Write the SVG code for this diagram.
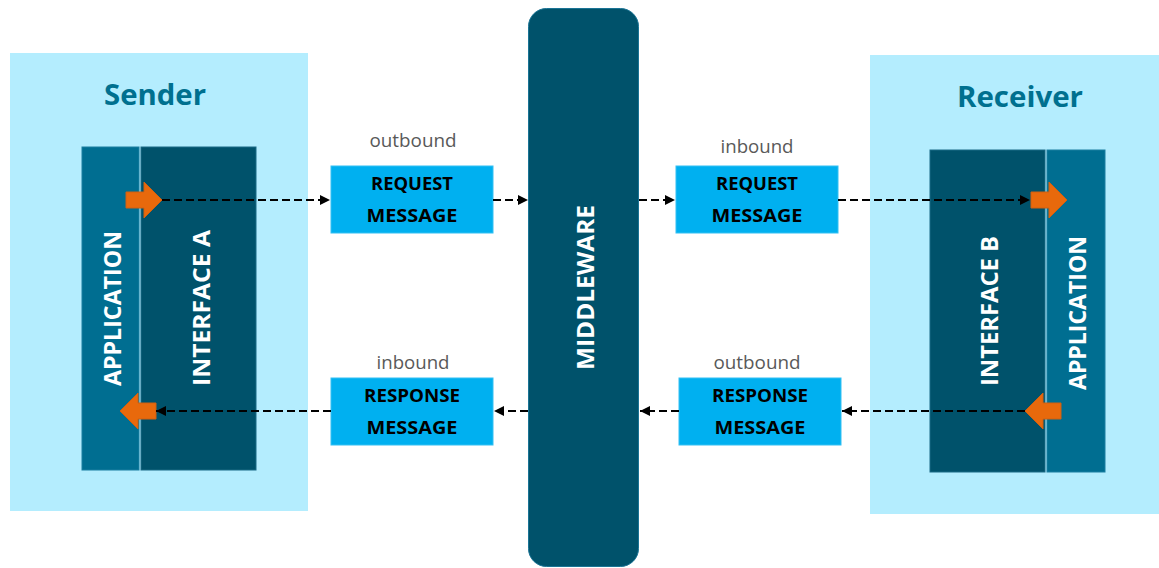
<svg xmlns="http://www.w3.org/2000/svg" width="1159" height="568" viewBox="0 0 1159 568">
<defs>
<style>
.bg{fill:#b4edfe;}
.app{fill:#006e91;stroke:#1a7ea0;stroke-width:1;}
.itf{fill:#00526b;stroke:#1a6a85;stroke-width:1;}
.title{font-family:"Open Sans","Noto Sans",sans-serif;font-weight:bold;font-size:29px;fill:#00708f;text-anchor:middle;}
.vt{font-family:"Open Sans","Noto Sans",sans-serif;font-weight:bold;font-size:24px;fill:#ffffff;text-anchor:middle;dominant-baseline:central;}
.msg{fill:#00b0f0;stroke:#33c0f3;stroke-width:1;}
.mt{font-family:"Open Sans","Noto Sans",sans-serif;font-weight:bold;font-size:18px;fill:#000000;text-anchor:middle;}
.lbl{font-family:"Open Sans","Noto Sans",sans-serif;font-size:18.5px;fill:#595959;text-anchor:middle;}
.conn{fill:none;stroke:#000000;stroke-width:2;stroke-dasharray:8 4;}
.orange{fill:#e8690c;stroke:#d06010;stroke-width:1;}
</style>
<marker id="ah" viewBox="0 0 10 10" refX="10" refY="5" markerWidth="5" markerHeight="5" orient="auto" markerUnits="strokeWidth">
<path d="M0,0 L10,5 L0,10 z" fill="#000000"/>
</marker>
</defs>

<g id="sender">
<rect class="bg" x="10" y="53" width="298" height="458"/>
<text class="title" x="155" y="105" textLength="102" lengthAdjust="spacingAndGlyphs">Sender</text>
<rect class="app" x="82" y="147" width="57" height="323"/>
<rect class="itf" x="141" y="147" width="115" height="323"/>
<text class="vt" transform="translate(111,308.5) rotate(-90)" textLength="155" lengthAdjust="spacingAndGlyphs">APPLICATION</text>
<text class="vt" transform="translate(200,308) rotate(-90)" textLength="156" lengthAdjust="spacingAndGlyphs">INTERFACE A</text>
<path class="orange" d="M126,192 L144,192 L144,182 L162,200 L144,218 L144,208 L126,208 z"/>
<path class="orange" d="M156,403 L138,403 L138,393 L120,411 L138,429 L138,419 L156,419 z"/>
</g>

<g id="receiver">
<rect class="bg" x="870" y="55" width="289" height="459"/>
<text class="title" x="1020" y="107" textLength="126" lengthAdjust="spacingAndGlyphs">Receiver</text>
<rect class="itf" x="930" y="150" width="115" height="322"/>
<rect class="app" x="1047" y="150" width="58" height="322"/>
<text class="vt" transform="translate(988,311) rotate(-90)" textLength="150" lengthAdjust="spacingAndGlyphs">INTERFACE B</text>
<text class="vt" transform="translate(1076,313) rotate(-90)" textLength="154" lengthAdjust="spacingAndGlyphs">APPLICATION</text>
<path class="orange" d="M1031,192 L1049,192 L1049,182 L1067,200 L1049,218 L1049,208 L1031,208 z"/>
<path class="orange" d="M1061,403 L1043,403 L1043,393 L1025,411 L1043,429 L1043,419 L1061,419 z"/>
</g>

<g id="middleware">
<rect x="528.5" y="8.5" width="110" height="558" rx="18" ry="18" fill="#00526b" stroke="#1a7495" stroke-width="1"/>
<text class="vt" transform="translate(584,287.5) rotate(-90)" textLength="165" lengthAdjust="spacingAndGlyphs">MIDDLEWARE</text>
</g>

<g id="req-out">
<text class="lbl" x="413" y="147" textLength="87" lengthAdjust="spacingAndGlyphs">outbound</text>
<rect class="msg" x="331" y="166" width="162" height="67"/>
<text class="mt" x="412" y="190" textLength="82" lengthAdjust="spacingAndGlyphs">REQUEST</text>
<text class="mt" x="412" y="222" textLength="91" lengthAdjust="spacingAndGlyphs">MESSAGE</text>
</g>

<g id="req-in">
<text class="lbl" x="757" y="153" textLength="73" lengthAdjust="spacingAndGlyphs">inbound</text>
<rect class="msg" x="676" y="166" width="162" height="67"/>
<text class="mt" x="757" y="190" textLength="82" lengthAdjust="spacingAndGlyphs">REQUEST</text>
<text class="mt" x="757" y="222" textLength="91" lengthAdjust="spacingAndGlyphs">MESSAGE</text>
</g>

<g id="resp-in">
<text class="lbl" x="413" y="369" textLength="73" lengthAdjust="spacingAndGlyphs">inbound</text>
<rect class="msg" x="331" y="378" width="162" height="67"/>
<text class="mt" x="412" y="402" textLength="96" lengthAdjust="spacingAndGlyphs">RESPONSE</text>
<text class="mt" x="412" y="434" textLength="91" lengthAdjust="spacingAndGlyphs">MESSAGE</text>
</g>

<g id="resp-out">
<text class="lbl" x="757" y="369" textLength="87" lengthAdjust="spacingAndGlyphs">outbound</text>
<rect class="msg" x="679" y="378" width="162" height="67"/>
<text class="mt" x="760" y="402" textLength="96" lengthAdjust="spacingAndGlyphs">RESPONSE</text>
<text class="mt" x="760" y="434" textLength="91" lengthAdjust="spacingAndGlyphs">MESSAGE</text>
</g>

<g id="connectors">
<line class="conn" x1="162" y1="200" x2="330" y2="200" marker-end="url(#ah)"/>
<line class="conn" x1="493" y1="200" x2="528" y2="200" marker-end="url(#ah)"/>
<line class="conn" x1="639" y1="200" x2="675" y2="200" marker-end="url(#ah)"/>
<line class="conn" x1="838" y1="200" x2="1030" y2="200" marker-end="url(#ah)"/>
<line class="conn" x1="1025" y1="411" x2="842" y2="411" marker-end="url(#ah)"/>
<line class="conn" x1="679" y1="411" x2="640" y2="411" marker-end="url(#ah)"/>
<line class="conn" x1="528" y1="411" x2="494" y2="411" marker-end="url(#ah)"/>
<line class="conn" x1="331" y1="411" x2="156" y2="411" marker-end="url(#ah)"/>
</g>
</svg>
